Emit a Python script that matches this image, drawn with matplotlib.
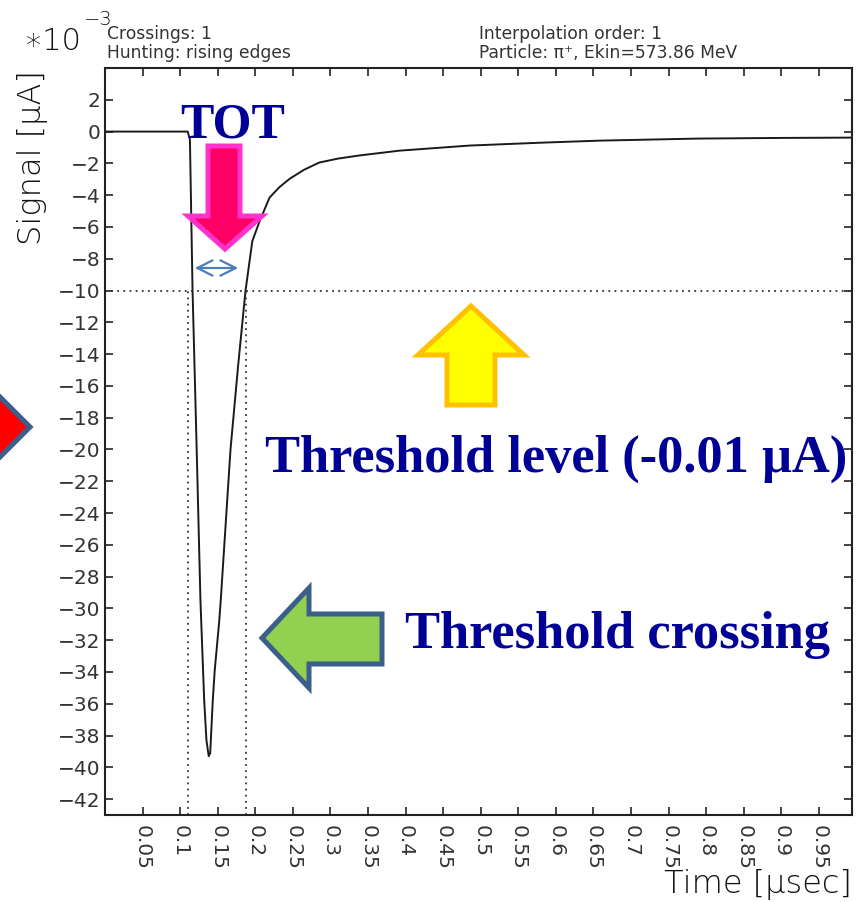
import matplotlib
matplotlib.use("Agg")
import matplotlib.pyplot as plt
from matplotlib.patches import Polygon, FancyArrowPatch, ArrowStyle

W, H = 867, 902

# Pulse shape: time in microseconds, signal in units of 1e-3 uA
time_us = [0.000, 0.105, 0.110, 0.113, 0.1165, 0.122, 0.127, 0.132, 0.135, 0.138,
           0.140, 0.1434, 0.146, 0.152, 0.154, 0.167, 0.177, 0.187, 0.196, 0.206,
           0.219, 0.232, 0.246, 0.265, 0.285, 0.310, 0.339, 0.392, 0.485, 0.580,
           0.658, 0.790, 0.900, 0.994]
signal = [0.0, 0.0, 0.0, -0.5, -10.0, -20.0, -29.5, -35.8, -38.3, -39.3,
          -39.1, -35.8, -33.9, -30.8, -29.5, -20.0, -14.8, -10.0, -6.9, -5.6,
          -4.15, -3.5, -2.96, -2.4, -1.95, -1.7, -1.5, -1.2, -0.88, -0.7,
          -0.57, -0.44, -0.40, -0.38]

threshold = -10.0                 # 1e-3 uA
crossing_times = [0.111, 0.187]   # us

x_ticks = [0.05, 0.10, 0.15, 0.20, 0.25, 0.30, 0.35, 0.40, 0.45, 0.50,
           0.55, 0.60, 0.65, 0.70, 0.75, 0.80, 0.85, 0.90, 0.95]
x_tick_labels = ["0.05", "0.1", "0.15", "0.2", "0.25", "0.3", "0.35", "0.4",
                 "0.45", "0.5", "0.55", "0.6", "0.65", "0.7", "0.75", "0.8",
                 "0.85", "0.9", "0.95"]
y_ticks = [-42, -40, -38, -36, -34, -32, -30, -28, -26, -24, -22, -20, -18,
           -16, -14, -12, -10, -8, -6, -4, -2, 0, 2]
y_tick_labels = [str(v).replace("-", "\u2212") for v in y_ticks]

INK = "#222222"
ROOT_LIGHT = dict(family="DejaVu Sans", weight="light", color="#111111")
ROOT_FONT = dict(family="DejaVu Sans", weight="normal", color="#333333")
NAVY = "#000096"
SERIF_BOLD = dict(family="Liberation Serif", weight="bold", color=NAVY)

fig = plt.figure(figsize=(W / 100, H / 100), dpi=100)
fig.patch.set_facecolor("white")
ax = fig.add_axes([105 / W, 1 - 815 / H, (852 - 105) / W, (815 - 68) / H])

ax.plot(time_us, signal, color="#1a1a1a", lw=1.4)
ax.axhline(threshold, color="#333333", lw=1.3, ls=(0, (1, 2.4)))
ax.vlines(crossing_times, -43, threshold, color="#333333", lw=1.3, ls=(0, (1, 2.4)))

ax.set_xlim(0, 0.994)
ax.set_ylim(-43, 4)
ax.set_xticks(x_ticks)
ax.set_xticklabels(x_tick_labels, rotation=-90, fontsize=14.5, **ROOT_FONT)
ax.set_yticks(y_ticks)
ax.set_yticklabels(y_tick_labels, fontsize=14.5, **ROOT_FONT)
ax.tick_params(axis="both", direction="in", length=5.5, width=1.2, color=INK,
               top=True, right=True)
ax.tick_params(axis="x", pad=7)
ax.tick_params(axis="y", pad=3.5)
for lab in ax.get_xticklabels():
    lab.set_va("top")
    lab.set_ha("center")
for s in ax.spines.values():
    s.set_linewidth(1.5)
    s.set_color(INK)


def px(x, y):
    return (x / W, 1 - y / H)


# Axis titles and header in ROOT style
fig.text(*px(33, 70), "Signal [\u03bcA]", rotation=90, ha="center", va="top",
         fontsize=23, **ROOT_LIGHT)
fig.text(*px(852, 893), "Time [\u03bcsec]", ha="right", va="baseline",
         fontsize=23, **ROOT_LIGHT)
fig.text(*px(24, 50), "\u221710", ha="left", va="baseline", fontsize=22, **ROOT_LIGHT)
fig.text(*px(84, 25), "\u22123", ha="left", va="baseline", fontsize=14, **ROOT_LIGHT)
fig.text(*px(107, 39), "Crossings: 1", ha="left", va="baseline", fontsize=12.3, **ROOT_FONT)
fig.text(*px(107, 58), "Hunting: rising edges", ha="left", va="baseline", fontsize=12.3, **ROOT_FONT)
fig.text(*px(479, 39), "Interpolation order: 1", ha="left", va="baseline", fontsize=12.3, **ROOT_FONT)
fig.text(*px(479, 58), "Particle: \u03c0\u207a, Ekin=573.86 MeV", ha="left", va="baseline",
         fontsize=12.3, **ROOT_FONT)


def block_arrow(points, face, edge, lw=3.6):
    poly = Polygon([px(x, y) for x, y in points], closed=True, transform=fig.transFigure,
                   facecolor=face, edgecolor=edge, lw=lw, joinstyle="miter")
    fig.add_artist(poly)


# Pink arrow pointing down at the time-over-threshold window
block_arrow([(208, 146), (240, 146), (240, 216), (262, 216), (225, 249), (188, 216), (208, 216)],
            "#ff0066", "#ff33cc")
# Yellow arrow pointing up at the threshold level
block_arrow([(471, 306), (524, 355), (495, 355), (495, 405), (447, 405), (447, 355), (418, 355)],
            "#ffff00", "#ffc000")
# Green arrow pointing left at the threshold crossing
block_arrow([(262, 638), (309, 588), (309, 614), (382, 614), (382, 664), (309, 664), (309, 688)],
            "#92d050", "#3a5f8b")
# Red arrow entering from the left edge
block_arrow([(30, 427), (-40, 357), (-40, 390), (-120, 390), (-120, 464), (-40, 464), (-40, 497)],
            "#ff0000", "#3a5f8b")

# Double-headed arrow spanning the TOT window
tot = FancyArrowPatch(px(192, 268), px(241, 268), transform=fig.transFigure,
                      arrowstyle=ArrowStyle("<->", head_length=11, head_width=5.5),
                      mutation_scale=1, color="#4a7ebb", lw=1.6)
fig.add_artist(tot)

fig.text(*px(180, 137), "TOT", ha="left", va="baseline", fontsize=36, **SERIF_BOLD)
fig.text(*px(265, 472), "Threshold level (-0.01 \u03bcA)", ha="left", va="baseline",
         fontsize=37.8, **SERIF_BOLD)
fig.text(*px(405, 648), "Threshold crossing", ha="left", va="baseline",
         fontsize=37.8, **SERIF_BOLD)

fig.savefig("out.png", dpi=100, facecolor="white")
